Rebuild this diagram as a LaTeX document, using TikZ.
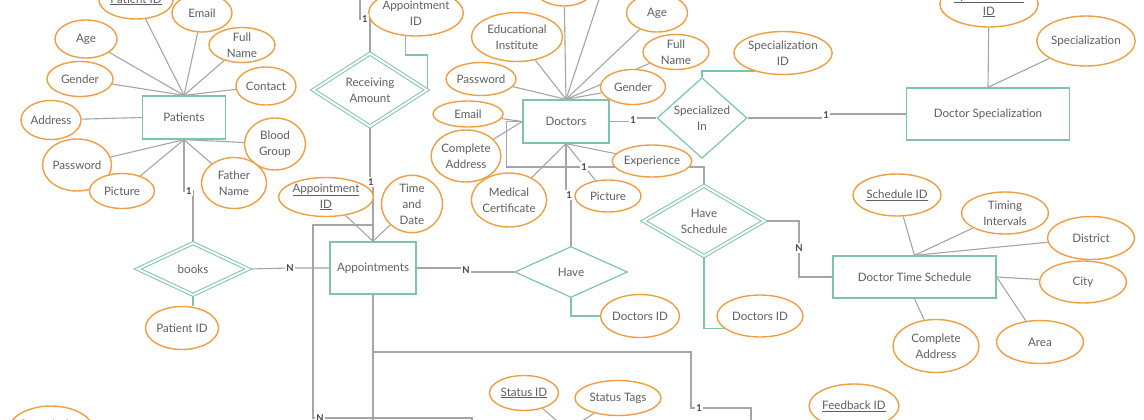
\documentclass[tikz,border=0pt]{standalone}
\usepackage{fontspec}
\setmainfont{Lato}
\usetikzlibrary{shapes.geometric, backgrounds}
\definecolor{entgreen}{RGB}{125,198,165}
\definecolor{attorange}{RGB}{240,158,66}
\definecolor{linegray}{RGB}{165,165,165}
\definecolor{txtgray}{RGB}{95,95,95}
\definecolor{cardgray}{RGB}{70,70,70}

\begin{document}
\begin{tikzpicture}[x=1pt, y=-1pt,
	font=\fontsize{11.6}{16}\selectfont, text=txtgray,
	entity/.style={shape=rectangle, draw=entgreen, line width=1.3pt, fill=white, inner sep=0pt},
	attr/.style={shape=ellipse, draw=attorange, line width=1.4pt, fill=white, inner sep=0pt, align=center},
	rel/.style={shape=diamond, draw=entgreen, line width=1.2pt, fill=white, inner sep=0pt, align=center},
	wrel/.style={rel, double=white, double distance=2pt, line width=1pt},
	card/.style={fill=white, inner sep=1.5pt, text=cardgray, font=\fontsize{9.5}{10}\selectfont\bfseries},
	wire/.style={draw=linegray, line width=1.1pt},
	gwire/.style={draw=entgreen, line width=1.3pt}]
	\useasboundingbox (0,0) rectangle (1144,420);
	\clip (0,0) rectangle (1144,420);
	% Entities and relations:
	\node[entity, minimum width=83pt, minimum height=43pt] (pat) at (184,117.5) {Patients};
	\node[entity, minimum width=86pt, minimum height=43pt] (doc) at (566,121.5) {Doctors};
	\node[entity, minimum width=163pt, minimum height=52pt] (ds) at (988,114) {Doctor Specialization};
	\node[entity, minimum width=86pt, minimum height=52pt] (app) at (373,268) {Appointments};
	\node[entity, minimum width=163pt, minimum height=42pt] (dts) at (914.5,277) {Doctor Time Schedule};
	\node[wrel, minimum width=114pt, minimum height=64pt] (ra) at (370,90) {Receiving\\Amount};
	\node[wrel, minimum width=111pt, minimum height=52pt] (books) at (193,269) {books};
	\node[rel, minimum width=90pt, minimum height=60pt] (si) at (702,118) {Specialized\\In};
	\node[rel, minimum width=113pt, minimum height=51pt] (have) at (571,272) {Have};
	\node[wrel, minimum width=121pt, minimum height=61pt] (hs) at (704,221) {Have\\Schedule};
	% Patients attributes:
	\node[attr, minimum width=74pt, minimum height=38pt] (pPid) at (136,0) {\underline{Patient ID}};
	\node[attr, minimum width=60pt, minimum height=38pt] (pEmail) at (202,13) {Email};
	\node[attr, minimum width=62pt, minimum height=38pt] (pAge) at (86,39) {Age};
	\node[attr, minimum width=66pt, minimum height=35pt] (pName) at (242,45) {Full\\Name};
	\node[attr, minimum width=66pt, minimum height=35pt] (pGender) at (80,79) {Gender};
	\node[attr, minimum width=60pt, minimum height=38pt] (pContact) at (266,86) {Contact};
	\node[attr, minimum width=60pt, minimum height=39pt] (pAddr) at (51,120) {Address};
	\node[attr, minimum width=61pt, minimum height=52pt] (pBlood) at (275,144) {Blood\\Group};
	\node[attr, minimum width=69pt, minimum height=52pt] (pPwd) at (77,165) {Password};
	\node[attr, minimum width=65pt, minimum height=35pt] (pPic) at (122,191) {Picture};
	\node[attr, minimum width=65pt, minimum height=51pt] (pFather) at (234,183) {Father\\Name};
	\node[attr, minimum width=73pt, minimum height=43pt] (bPid) at (182,328) {Patient ID};
	% Appointments attributes:
	\node[attr, minimum width=87pt, minimum height=46pt] (raId) at (416,13) {Appointment\\ID};
	\node[attr, minimum width=86pt, minimum height=39pt] (aId) at (326,197) {\underline{Appointment}\\\underline{ID}};
	\node[attr, minimum width=61pt, minimum height=52pt] (aTime) at (412,204) {Time\\and\\Date};
	% Doctors attributes:
	\node[attr, minimum width=60pt, minimum height=38pt] (dTop) at (564,-13) {};
	\node[attr, minimum width=91pt, minimum height=49pt] (dEdu) at (517,37) {Educational\\Institute};
	\node[attr, minimum width=61pt, minimum height=38pt] (dAge) at (657,13) {Age};
	\node[attr, minimum width=66pt, minimum height=35pt] (dName) at (676,52) {Full\\Name};
	\node[attr, minimum width=70pt, minimum height=33pt] (dPwd) at (481,79) {Password};
	\node[attr, minimum width=65pt, minimum height=35pt] (dGender) at (633,87) {Gender};
	\node[attr, minimum width=70pt, minimum height=26pt] (dEmail) at (468,114) {Email};
	\node[attr, minimum width=66pt, minimum height=52pt] (dAddr) at (466,156) {Complete\\Address};
	\node[attr, minimum width=75pt, minimum height=54pt] (dCert) at (509,200) {Medical\\Certificate};
	\node[attr, minimum width=66pt, minimum height=32pt] (dPic) at (608,196) {Picture};
	\node[attr, minimum width=79pt, minimum height=32pt] (dExp) at (652,161) {Experience};
	\node[attr, minimum width=78pt, minimum height=43pt] (hId) at (640,316) {Doctors ID};
	\node[attr, minimum width=86pt, minimum height=42pt] (hsId) at (760,316) {Doctors ID};
	% Specialization attributes:
	\node[attr, minimum width=90pt, minimum height=43pt] (sId) at (783,53) {Specialization\\ID};
	\node[attr, minimum width=98pt, minimum height=46pt] (dsId) at (989,4) {\underline{Specialization}\\\underline{ID}};
	\node[attr, minimum width=95pt, minimum height=50pt] (dsName) at (1086,41) {Specialization};
	% Schedule attributes:
	\node[attr, minimum width=88pt, minimum height=42pt] (tId) at (897,195) {\underline{Schedule ID}};
	\node[attr, minimum width=87pt, minimum height=42pt] (tTime) at (1005,213) {Timing\\Intervals};
	\node[attr, minimum width=87pt, minimum height=43pt] (tDist) at (1091,238) {District};
	\node[attr, minimum width=87pt, minimum height=42pt] (tCity) at (1083,282) {City};
	\node[attr, minimum width=87pt, minimum height=43pt] (tArea) at (1040,342) {Area};
	\node[attr, minimum width=86pt, minimum height=53pt] (tAddr) at (936,346) {Complete\\Address};
	% Bottom row:
	\node[attr, minimum width=69pt, minimum height=35pt] (stId) at (524,393) {\underline{Status ID}};
	\node[attr, minimum width=86pt, minimum height=35pt] (stTag) at (618,398) {Status Tags};
	\node[attr, minimum width=85pt, minimum height=44pt] (fbId) at (854,406) {\underline{Feedback ID}};
	\node[attr, minimum width=82pt, minimum height=52pt] (prId) at (51,432) {Prescription\\ID};
	% Cardinalities:
	\node[card] (c1) at (189,191) {1};
	\node[card] (c2) at (290,268) {N};
	\node[card] (c3) at (365,19) {1};
	\node[card] (c4) at (371,182) {1};
	\node[card] (c5) at (466,270) {N};
	\node[card] (c6) at (569,195) {1};
	\node[card] (c7) at (633,120) {1};
	\node[card] (c8) at (826,115) {1};
	\node[card] (c9) at (584,167) {1};
	\node[card] (c10) at (799,248) {N};
	\node[card] (c11) at (320,418) {N};
	\node[card] (c12) at (699,408) {1};
	\coordinate (raUp) at (360,-20);
	\coordinate (dUp) at (612,-40);
	\coordinate (j1) at (373,225);
	\coordinate (prEnd) at (472,440);
	\coordinate (apDown) at (373,440);
	\coordinate (fbEnd) at (751,440);
	\coordinate (stEnd) at (568,430);
	\coordinate (fbLine) at (930,440);
	% Wires:
	\begin{pgfonlayer}{background}
		\foreach \a in {pPid, pEmail, pAge, pName, pGender, pContact}
			\draw[wire] (\a) -- (pat.north);
		\foreach \a in {pBlood, pPwd, pPic, pFather}
			\draw[wire] (\a) -- (pat.south);
		\draw[wire] (pAddr) -- (pat.west);
		\foreach \a in {dTop, dUp, dEdu, dAge, dName, dPwd, dGender}
			\draw[wire] (\a) -- (doc.north);
		\foreach \a in {dEmail, dAddr}
			\draw[wire] (\a) -- (doc.west);
		\foreach \a in {dCert, dPic, dExp}
			\draw[wire] (\a) -- (doc.south);
		\foreach \a in {aId, aTime}
			\draw[wire] (\a) -- (app.north);
		\foreach \a in {dsId, dsName}
			\draw[wire] (\a) -- (ds.north);
		\foreach \a in {tId, tTime, tDist}
			\draw[wire] (\a) -- (dts.north);
		\foreach \a in {tCity, tArea}
			\draw[wire] (\a) -- (dts.east);
		\draw[wire] (tAddr) -- (dts.south);
		\draw[wire] (stId) -- (stEnd);
		\draw[wire] (stTag) -- (stEnd);
		\draw[wire] (fbId) -- (fbLine);
		\draw[wire] (pat.south) |- (c1.center) -| (books.north);
		\draw[wire] (books.east) -- (c2.center) -- (app.west);
		\draw[wire] (raUp) |- (c3.center) -| (ra.north);
		\draw[wire] (ra.south) |- (c4.center) -| (app.north);
		\draw[wire] (app.east) -| (c5.center) |- (have.west);
		\draw[wire] (doc.south) |- (c6.center) -| (have.north);
		\draw[wire] (doc.east) -| (c7.center) |- (si.west);
		\draw[wire] (si.east) -| (c8.center) |- (ds.west);
		\draw[wire] (doc.west) -- ++(-16,0) |- (c9.center) -| (hs.north);
		\draw[wire] (hs.east) -| (c10.center) |- (dts.west);
		\draw[wire] (j1) -| (313,418) -- (c11.center) -| (prEnd);
		\draw[wire] (app.south) -- (apDown);
		\draw[wire] (app.south) |- (691,352) |- (c12.center) -| (fbEnd);
		\draw[gwire] (raId.245) -- ++(0,19) -| (ra.east);
		\draw[gwire] (books.south) -- (books.south |- bPid.north);
		\draw[gwire] (have.south) |- (hId.west);
		\draw[gwire] (hs.south) |- (hsId.200);
		\draw[gwire] (si.north) -- ++(0,-6) -| (sId.212);
	\end{pgfonlayer}
\end{tikzpicture}
\end{document}
